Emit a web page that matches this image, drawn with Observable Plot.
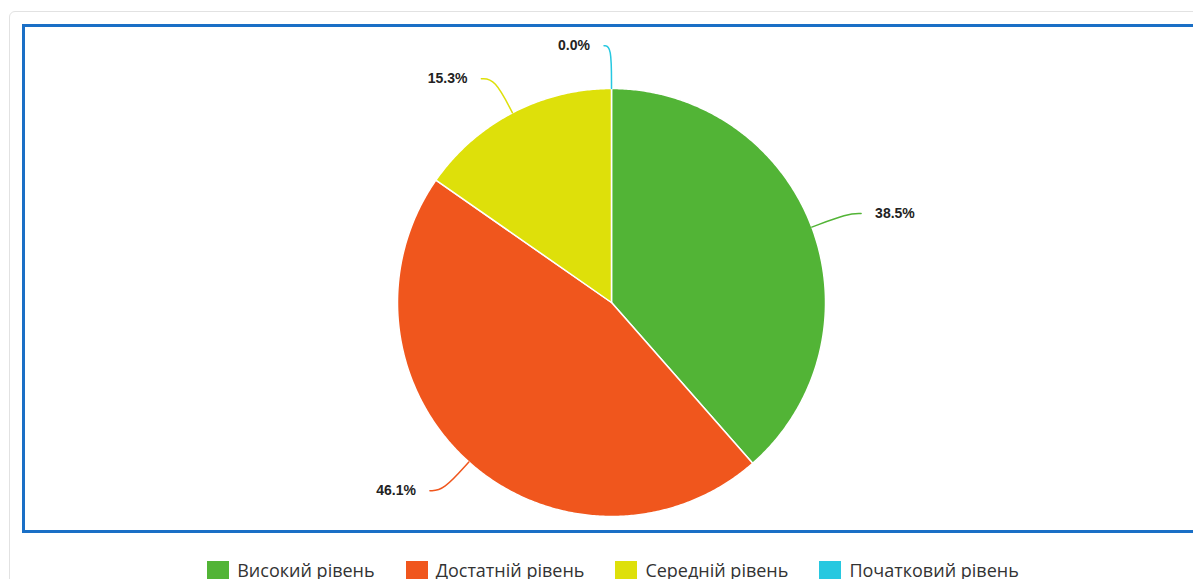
<!DOCTYPE html>
<html><head><meta charset="utf-8">
<script src="https://cdn.jsdelivr.net/npm/d3@7"></script>
<script src="https://cdn.jsdelivr.net/npm/@observablehq/plot@0.6"></script>
<style>
html,body{margin:0;padding:0;background:#fff;overflow:hidden;width:1193px;height:579px;}
.card{position:absolute;left:9px;top:11px;width:1400px;height:700px;border:1px solid #e2e2e2;border-radius:6px;background:#fff;}
#chart{position:absolute;left:22px;top:24px;width:1180px;}
#chart svg{border:3px solid #1a6fc6;display:block;max-width:none !important;}
.legend{position:absolute;left:0;width:1226px;top:558px;display:flex;justify-content:center;gap:31px;font-family:"Open Sans","DejaVu Sans",sans-serif;font-size:18px;color:#333;}
.legend .item{display:flex;align-items:center;white-space:nowrap;}
.legend .sw{width:22px;height:18px;margin-right:8px;display:inline-block;}
</style></head>
<body>
<div class="card"></div>
<div id="chart"></div>
<div class="legend" id="legend"></div>
<script>
const categories = ["Високий рівень","Достатній рівень","Середній рівень","Початковий рівень"];
const values = [38.5, 46.1, 15.3, 0.0];
const labels = ["38.5%","46.1%","15.3%","0.0%"];
const colors = ["#52b436","#f0561d","#dee00a","#27c8e0"];

const R = 214, W = 1174, H = 503, CX = 586, CY = 275;
const arcs = d3.pie().value(d => d).sort(null)(values);

// slice polygons in unit-radius coordinates
const slices = [];
arcs.forEach((a, i) => {
  if (a.endAngle - a.startAngle <= 0) return;
  const n = Math.max(2, Math.ceil((a.endAngle - a.startAngle) / (Math.PI / 360)));
  slices.push({key: categories[i], x: 0, y: 0});
  for (let k = 0; k <= n; k++) {
    const t = a.startAngle + (a.endAngle - a.startAngle) * k / n;
    slices.push({key: categories[i], x: Math.sin(t), y: Math.cos(t)});
  }
  slices.push({key: categories[i], x: 0, y: 0});
});

// leader lines and label anchors
const leaders = [], labelPts = [];
arcs.forEach((a, i) => {
  const m = (a.startAngle + a.endAngle) / 2;
  const ux = Math.sin(m), uy = Math.cos(m);
  const dir = ux > 0.001 ? 1 : -1;
  const rr = Math.abs(ux) < 0.05 ? 1.2 : 1.18;
  const tail = Math.abs(ux) < 0.05 ? 0.035 : 0.062;
  const cx = rr * ux, cy = rr * uy;
  const ex = cx + dir * tail, ey = cy;
  leaders.push({key: categories[i], x: ux, y: uy});
  leaders.push({key: categories[i], x: cx, y: cy});
  leaders.push({key: categories[i], x: ex, y: ey});
  labelPts.push({key: categories[i], x: ex, y: ey, text: labels[i], dir});
});

const chart = Plot.plot({
  width: W, height: H,
  margin: 0,
  x: {domain: [-1, 1], range: [CX - R, CX + R], axis: null},
  y: {domain: [-1, 1], range: [CY + R, CY - R], axis: null},
  color: {domain: categories, range: colors},
  style: {background: "#fff"},
  marks: [
    Plot.line(slices, {x: "x", y: "y", z: "key", fill: "key", stroke: "white", strokeWidth: 1.5, curve: "linear"}),
    Plot.line(leaders, {x: "x", y: "y", z: "key", stroke: "key", strokeWidth: 1.5, curve: "basis"}),
    Plot.text(labelPts.filter(d => d.dir > 0), {x: "x", y: "y", text: "text", textAnchor: "start", dx: 14, fontSize: 14, fontWeight: "bold", fill: "#222", fontFamily: "Liberation Sans, Arial, sans-serif"}),
    Plot.text(labelPts.filter(d => d.dir < 0), {x: "x", y: "y", text: "text", textAnchor: "end", dx: -14, fontSize: 14, fontWeight: "bold", fill: "#222", fontFamily: "Liberation Sans, Arial, sans-serif"})
  ]
});
document.getElementById("chart").appendChild(chart);

const leg = document.getElementById("legend");
categories.forEach((c, i) => {
  const it = document.createElement("div");
  it.className = "item";
  it.innerHTML = `<span class="sw" style="background:${colors[i]}"></span><span>${c}</span>`;
  leg.appendChild(it);
});
</script>
</body></html>
